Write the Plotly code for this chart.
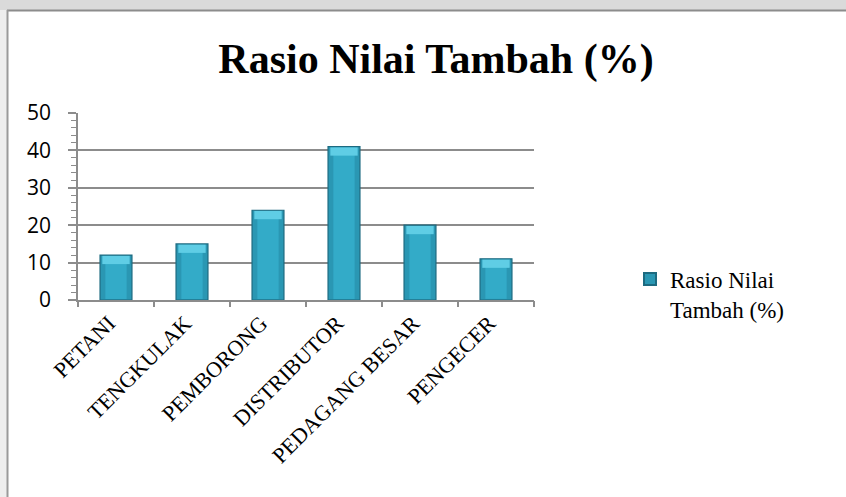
import plotly.graph_objects as go

categories = ["PETANI", "TENGKULAK", "PEMBORONG", "DISTRIBUTOR", "PEDAGANG BESAR", "PENGECER"]
values = [12, 15, 24, 41, 20, 11]
series_name = "Rasio Nilai<br>Tambah (%)"
title_text = "Rasio Nilai Tambah (%)"
y_ticks = [0, 10, 20, 30, 40, 50]

W, H = 846, 497
ML, MR, MT, MB = 78, 312, 113, 197
PW, PH = W - ML - MR, H - MT - MB


def px_x(p):
    return (p - ML) / PW


def px_y(p):
    return (H - MB - p) / PH


fig = go.Figure()
fig.add_trace(go.Bar(
    x=categories, y=values, name=series_name, width=0.42,
    marker=dict(color="#2A97B3", line=dict(color="#1C6A80", width=1.2)),
    showlegend=True,
))
fig.add_trace(go.Bar(
    x=categories, y=[v - 0.6 for v in values], base=[0.3] * len(values), width=0.28,
    marker=dict(color="#33ABC8", line=dict(width=0)),
    showlegend=False, hoverinfo="skip",
))
fig.add_trace(go.Bar(
    x=categories, y=[2.2] * len(values), base=[v - 2.4 for v in values], width=0.36,
    marker=dict(color="#5FCDE5", line=dict(width=0)),
    showlegend=False, hoverinfo="skip",
))
# invisible trace carrying the tick-mark axis
fig.add_trace(go.Scatter(
    x=categories, y=values, mode="none", xaxis="x2", showlegend=False, hoverinfo="skip",
))

shapes = [
    dict(type="rect", xref="paper", yref="paper", x0=px_x(-5), x1=px_x(W + 5), y0=px_y(-5), y1=px_y(10),
         fillcolor="#dadada", line=dict(width=0), layer="below"),
    dict(type="rect", xref="paper", yref="paper", x0=px_x(-5), x1=px_x(7), y0=px_y(10), y1=px_y(H + 5),
         fillcolor="#eeeeee", line=dict(width=0), layer="below"),
    dict(type="line", xref="paper", yref="paper", x0=px_x(7), x1=px_x(W + 5), y0=px_y(10.5), y1=px_y(10.5),
         line=dict(color="#8c8c8c", width=2)),
    dict(type="line", xref="paper", yref="paper", x0=px_x(7.5), x1=px_x(7.5), y0=px_y(10), y1=px_y(H + 5),
         line=dict(color="#9a9a9a", width=2)),
]

fig.update_layout(
    width=W, height=H,
    margin=dict(l=ML, r=MR, t=MT, b=MB),
    paper_bgcolor="white", plot_bgcolor="white",
    barmode="overlay", bargap=0.3,
    title=dict(text="<b>" + title_text + "</b>", x=436 / W, xanchor="center", y=1 - 58 / H, yanchor="middle",
               font=dict(family="Liberation Serif", size=42, color="black")),
    legend=dict(x=px_x(630), xanchor="left", y=px_y(294), yanchor="middle", valign="top",
                font=dict(family="Liberation Serif", size=23, color="black"),
                bgcolor="rgba(0,0,0,0)", itemsizing="constant"),
    shapes=shapes,
    xaxis=dict(
        type="category", tickangle=-45,
        showline=True, linecolor="#8c8c8c", linewidth=1.5,
        ticks="", ticklabelshift=-7,
        tickfont=dict(family="Liberation Serif", size=22, color="black"),
        showgrid=False,
    ),
    xaxis2=dict(
        type="category", overlaying="x", side="bottom", matches="x",
        tickson="boundaries", showticklabels=False,
        showline=False, ticks="outside", ticklen=6, tickcolor="#8c8c8c", tickwidth=1.5,
        showgrid=False,
    ),
    yaxis=dict(
        range=[0, 50], tickvals=y_ticks,
        showline=True, linecolor="#8c8c8c", linewidth=1.5,
        ticks="outside", ticklen=8, tickcolor="#8c8c8c", tickwidth=1.5,
        minor=dict(dtick=2, ticks="outside", ticklen=5, tickcolor="#8c8c8c", tickwidth=1.2, showgrid=False),
        showgrid=True, gridcolor="#8c8c8c", gridwidth=1.5,
        tickfont=dict(family="Open Sans", size=21, color="black"),
        ticklabelstandoff=13,
        zeroline=False,
    ),
)

fig.write_html("out.html")
